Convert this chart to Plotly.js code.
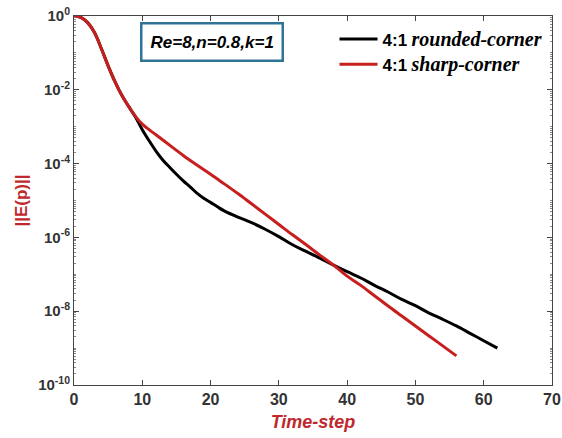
<!DOCTYPE html>
<html>
<head>
<meta charset="utf-8">
<script src="https://cdn.plot.ly/plotly-3.0.1.min.js"></script>
<style>html,body{margin:0;padding:0;background:#fff;}#chart{width:562px;height:438px;}</style>
</head>
<body>
<div id="chart"></div>
<script>
// Time steps and log10 of ||E(p)||
var roundedT = [0,1,2,3,4,5,6,7,8,9,10,11,12,13,14,15,16,17,18,19,20,21,22,24,26,28,30,32,34,36,38,40,42,44,46,48,50,52,54,56,58,60,62];
var roundedLog = [0,-0.04,-0.18,-0.45,-0.88,-1.35,-1.78,-2.15,-2.45,-2.74,-3.08,-3.38,-3.66,-3.9,-4.1,-4.29,-4.47,-4.63,-4.8,-4.94,-5.05,-5.17,-5.28,-5.45,-5.6,-5.78,-5.98,-6.2,-6.38,-6.56,-6.75,-6.93,-7.1,-7.3,-7.48,-7.68,-7.85,-8.05,-8.22,-8.4,-8.6,-8.8,-9.0];
var sharpT = [0,1,2,3,4,5,6,7,8,9,10,11,12,14,16,18,20,22,24,26,28,30,32,34,36,38,40,42,44,46,48,50,52,54,56];
var sharpLog = [0,-0.04,-0.18,-0.45,-0.88,-1.35,-1.78,-2.15,-2.45,-2.72,-2.93,-3.08,-3.22,-3.5,-3.78,-4.04,-4.29,-4.55,-4.81,-5.09,-5.37,-5.65,-5.93,-6.2,-6.48,-6.75,-7.05,-7.3,-7.58,-7.86,-8.13,-8.4,-8.67,-8.94,-9.21];
var xTicks = [0,10,20,30,40,50,60,70];
var yTickExp = [0,-2,-4,-6,-8,-10];

function pow10(a){return a.map(function(v){return Math.pow(10,v);});}
var yTickVals = pow10(yTickExp);
var yTickText = yTickExp.map(function(e){return '10<sup>'+e+'</sup>';});
var minorVals = [];
for (var d=-10; d<0; d++){ for (var k=1;k<10;k++){ minorVals.push(k*Math.pow(10,d)); } }

var legFont = function(txt){
  return '<span style="font-family:Liberation Sans,Arial;font-weight:bold;font-size:17px;">4:1</span> '+
         '<span style="font-family:Liberation Serif,Times New Roman;font-style:italic;font-weight:bold;font-size:20px;">'+txt+'</span>';
};

var traces = [
  {x: roundedT, y: pow10(roundedLog), mode:'lines', line:{color:'#000000', width:3, shape:'spline', smoothing:1}, name: legFont('rounded-corner')},
  {x: sharpT, y: pow10(sharpLog), mode:'lines', line:{color:'#c61f1e', width:3, shape:'spline', smoothing:1}, name: legFont('sharp-corner')}
];

var layout = {
  width:562, height:438,
  margin:{l:74, r:10, t:16, b:53},
  paper_bgcolor:'#ffffff', plot_bgcolor:'#ffffff',
  showlegend:true,
  legend:{x:0.545, y:0.985, xanchor:'left', yanchor:'top', bgcolor:'rgba(0,0,0,0)', borderwidth:0,
          font:{size:17, color:'#000'}, tracegroupgap:0, itemwidth:38},
  xaxis:{range:[0,70], tickvals:xTicks, ticks:'inside', ticklen:5, tickcolor:'#444',
         showline:true, linecolor:'#444', linewidth:1, mirror:'ticks', showgrid:false, zeroline:false,
         tickfont:{family:'Liberation Sans, Arial', size:16, color:'#333333', weight:'bold'},
         title:{text:'<b><i>Time-step</i></b>', font:{family:'Liberation Sans, Arial', size:18, color:'#c0282d'}, standoff:8}},
  yaxis:{type:'log', range:[-10,0], tickvals:yTickVals, ticktext:yTickText, ticks:'inside', ticklen:5, tickcolor:'#444',
         showline:true, linecolor:'#444', linewidth:1, mirror:'ticks', showgrid:false, zeroline:false,
         tickfont:{family:'Liberation Sans, Arial', size:15, color:'#333333', weight:'bold'},
         minor:{tickvals:minorVals, ticks:'inside', ticklen:2, tickcolor:'#888', showgrid:false},
         title:{text:'<b>||E(p)||</b>', font:{family:'Liberation Sans, Arial', size:17, color:'#c0282d'}, standoff:6}},
  annotations:[{xref:'paper', yref:'paper', x:0.289, y:0.93, xanchor:'center', yanchor:'middle', showarrow:false,
    text:'<b><i>Re=8,n=0.8,k=1</i></b>', font:{family:'Liberation Sans, Arial', size:17, color:'#000'},
    bordercolor:'#2f7497', borderwidth:2.5, borderpad:8, bgcolor:'#ffffff'}]
};
Plotly.newPlot('chart', traces, layout, {displayModeBar:false, staticPlot:true});
</script>
</body>
</html>
